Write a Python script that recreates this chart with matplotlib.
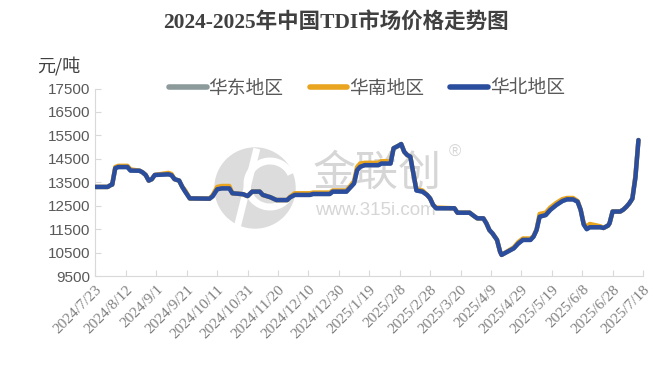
import matplotlib
matplotlib.use("Agg")
import matplotlib.pyplot as plt
from matplotlib.patches import Ellipse, Arc
import pandas as pd

plt.rcParams["font.family"] = ["Liberation Sans", "Noto Sans CJK SC"]

# price points (yuan/ton)
dates = [
    "2024-07-23", "2024-07-31", "2024-08-02", "2024-08-03", "2024-08-05",
    "2024-08-07", "2024-08-13", "2024-08-15", "2024-08-21", "2024-08-23",
    "2024-08-25", "2024-08-27", "2024-08-29", "2024-08-31", "2024-09-09",
    "2024-09-11", "2024-09-13", "2024-09-16", "2024-09-18", "2024-09-20",
    "2024-09-23", "2024-10-06", "2024-10-08", "2024-10-11", "2024-10-14",
    "2024-10-19", "2024-10-21", "2024-10-28", "2024-10-31", "2024-11-03",
    "2024-11-08", "2024-11-10", "2024-11-15", "2024-11-19", "2024-11-26",
    "2024-11-28", "2024-12-01", "2024-12-11", "2024-12-13", "2024-12-24",
    "2024-12-26", "2025-01-04", "2025-01-06", "2025-01-09", "2025-01-11",
    "2025-01-13", "2025-01-16", "2025-01-25", "2025-01-27", "2025-02-02",
    "2025-02-04", "2025-02-07", "2025-02-09", "2025-02-11", "2025-02-13",
    "2025-02-15", "2025-02-17", "2025-02-19", "2025-02-23", "2025-02-26",
    "2025-02-28", "2025-03-02", "2025-03-04", "2025-03-16", "2025-03-18",
    "2025-03-26", "2025-03-28", "2025-03-31", "2025-04-04", "2025-04-06",
    "2025-04-08", "2025-04-10", "2025-04-13", "2025-04-15", "2025-04-16",
    "2025-04-20", "2025-04-24", "2025-04-27", "2025-04-30", "2025-05-05",
    "2025-05-07", "2025-05-09", "2025-05-11", "2025-05-15", "2025-05-18",
    "2025-05-22", "2025-05-26", "2025-05-29", "2025-06-02", "2025-06-05",
    "2025-06-07", "2025-06-09", "2025-06-11", "2025-06-13", "2025-06-20",
    "2025-06-22", "2025-06-25", "2025-06-26", "2025-06-28", "2025-07-03",
    "2025-07-05", "2025-07-07", "2025-07-09", "2025-07-11", "2025-07-13",
    "2025-07-15",
]

north_prices = [
    13300, 13300, 13380, 13400, 14100, 14150, 14150, 14000, 13990, 13920,
    13810, 13570, 13630, 13810, 13840, 13800, 13630, 13570, 13310, 13100,
    12810, 12800, 12900, 13200, 13240, 13240, 13030, 12990, 12910, 13100,
    13100, 12960, 12860, 12740, 12740, 12860, 12960, 12960, 13000, 13000,
    13100, 13100, 13240, 13450, 14020, 14160, 14230, 14230, 14300, 14300,
    14950, 15050, 15130, 14800, 14660, 14590, 13880, 13150, 13100, 12960,
    12810, 12530, 12390, 12390, 12200, 12200, 12100, 11960, 11960, 11750,
    11460, 11320, 11040, 10540, 10400, 10540, 10680, 10890, 11040, 11040,
    11180, 11460, 12030, 12100, 12320, 12530, 12700, 12770, 12770, 12670,
    12320, 11700, 11500, 11580, 11580, 11550, 11650, 11750, 12250, 12250,
    12330, 12450, 12600, 12800, 13700, 15300,
]

south_prices = [
    13300, 13300, 13380, 13400, 14150, 14200, 14200, 14050, 13990, 13920,
    13810, 13570, 13630, 13810, 13900, 13850, 13630, 13570, 13310, 13150,
    12810, 12800, 12950, 13300, 13340, 13340, 13030, 12990, 12910, 13100,
    13100, 12960, 12860, 12740, 12740, 12880, 13030, 13030, 13060, 13060,
    13150, 13150, 13300, 13550, 14150, 14300, 14330, 14330, 14400, 14400,
    14950, 15050, 15130, 14800, 14660, 14590, 13880, 13200, 13150, 12960,
    12810, 12530, 12420, 12390, 12200, 12200, 12100, 11960, 11960, 11750,
    11460, 11320, 11040, 10540, 10400, 10560, 10720, 10950, 11100, 11100,
    11200, 11480, 12150, 12200, 12420, 12620, 12780, 12830, 12830, 12700,
    12320, 11750, 11600, 11720, 11620, 11550, 11650, 11750, 12250, 12250,
    12330, 12450, 12600, 12800, 13800, 15300,
]

# east China is hidden under the other two lines in the original
east_prices = north_prices

series_names = ["华东地区", "华南地区", "华北地区"]
series_colors = ["#8c9a9c", "#e9a51f", "#2b4d9d"]

tick_start, tick_end = "2024-07-23", "2025-07-18"

x = pd.to_datetime(dates)

fig = plt.figure(figsize=(6.71, 3.75), dpi=100)
ax = fig.add_axes([0.1423, 0.264, 0.8160, 0.500])

for vals, name, col in zip([east_prices, south_prices, north_prices],
                           series_names, series_colors):
    ax.plot(x, vals, color=col, linewidth=3.2, label=name,
            solid_joinstyle="round", solid_capstyle="round", zorder=3)

ax.set_ylim(9500, 17500)
ax.set_yticks(range(9500, 17501, 1000))
ax.set_xlim(pd.Timestamp(tick_start), pd.Timestamp(tick_end))
ticks = pd.date_range(tick_start, tick_end, freq="20D")
ax.set_xticks(ticks)
ax.set_xticklabels([f"{t.year}/{t.month}/{t.day}" for t in ticks],
                   rotation=45, ha="right", rotation_mode="anchor",
                   fontsize=11, color="#808080",
                   family=["Liberation Serif", "Noto Sans CJK SC"])
ax.tick_params(axis="y", labelsize=11, labelcolor="#595959")
ax.tick_params(direction="in", length=4, color="#d9d9d9", width=0.8)
ax.tick_params(axis="x", pad=5)

for side in ["top", "right"]:
    ax.spines[side].set_visible(False)
for side in ["left", "bottom"]:
    ax.spines[side].set_color("#d9d9d9")
    ax.spines[side].set_linewidth(0.8)


# watermark (pixel coords of the reference image)
def fx(px):
    return px / 671


def fy(py):
    return 1 - py / 375


ax.add_patch(Ellipse((fx(255), fy(188)), 80 / 671, 80 / 375,
                     transform=fig.transFigure, color="#dcdcdc", zorder=1,
                     clip_on=False))
ax.add_patch(Arc((fx(270), fy(184)), 46 / 671, 46 / 375, theta1=40,
                 theta2=300, transform=fig.transFigure, color="white",
                 linewidth=5, zorder=1.1, clip_on=False))
ax.plot([fx(238), fx(256)], [fy(224), fy(152)], transform=fig.transFigure,
        color="white", linewidth=5, zorder=1.1, clip_on=False)
ax.text(fx(377), fy(174), "金联创", transform=fig.transFigure,
        fontsize=31, color="#d6d6d6", ha="center", va="center", zorder=1,
        family=["Noto Sans CJK SC"])
ax.text(fx(455), fy(152), "®", transform=fig.transFigure,
        fontsize=12, color="#d6d6d6", ha="center", va="center", zorder=1)
ax.text(fx(375), fy(210), "www.315i.com", transform=fig.transFigure,
        fontsize=13.5, color="#d6d6d6", ha="center", va="center", zorder=1)

fig.text(0.5, fy(22), "2024-2025年中国TDI市场价格走势图", ha="center",
         va="center", fontsize=15.5, fontweight="bold", color="#404040",
         family=["Liberation Serif", "Noto Sans CJK SC"])
fig.text(fx(37), fy(66), "元/吨", ha="left", va="center", fontsize=13,
         color="#404040", family=["Noto Sans CJK SC"])

leg = fig.legend(loc="center", bbox_to_anchor=(fx(367), fy(88)), ncol=3,
                 frameon=False, handlelength=2.0,
                 handletextpad=0.1, columnspacing=1.4,
                 prop={"family": ["Noto Sans CJK SC"], "size": 13.5})
for t in leg.get_texts():
    t.set_color("#595959")
for h in leg.get_lines():
    h.set_linewidth(4)

fig.savefig("out.png", dpi=100)
